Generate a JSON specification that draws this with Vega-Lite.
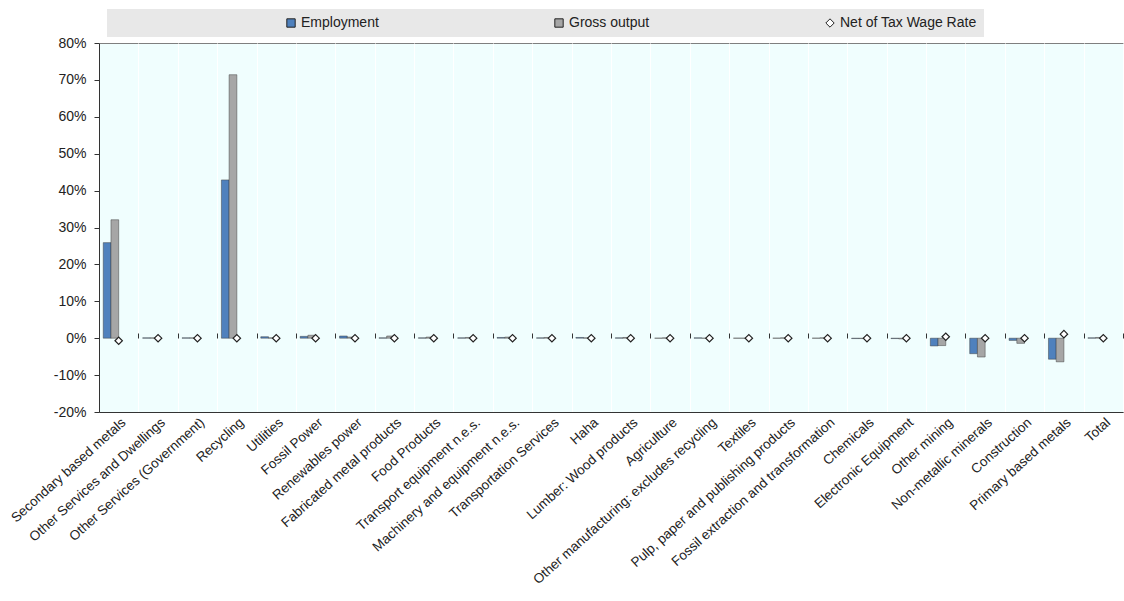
{
  "$schema": "https://vega.github.io/schema/vega-lite/v6.json",
  "width": 1024,
  "height": 369,
  "autosize": {"type": "none"},
  "padding": {"left": 99, "top": 43, "right": 1, "bottom": 189},
  "background": "#ffffff",
  "config": {
    "font": "Liberation Sans",
    "view": {"fill": "#f0fefe", "stroke": "#7f7f7f", "strokeWidth": 1},
    "axis": {"labelFont": "Liberation Sans", "labelColor": "#222222"},
    "axisY": {"labelOverlap": false},
    "legend": {"labelFont": "Liberation Sans"}
  },
  "datasets": {
    "bars": [
      {"category": "Secondary based metals", "series": "Employment", "value": 0.259},
      {"category": "Secondary based metals", "series": "Gross output", "value": 0.321},
      {"category": "Other Services and Dwellings", "series": "Employment", "value": 0.001},
      {"category": "Other Services and Dwellings", "series": "Gross output", "value": 0.001},
      {"category": "Other Services (Government)", "series": "Employment", "value": 0.001},
      {"category": "Other Services (Government)", "series": "Gross output", "value": 0.001},
      {"category": "Recycling", "series": "Employment", "value": 0.429},
      {"category": "Recycling", "series": "Gross output", "value": 0.714},
      {"category": "Utilities", "series": "Employment", "value": 0.004},
      {"category": "Utilities", "series": "Gross output", "value": 0.001},
      {"category": "Fossil Power", "series": "Employment", "value": 0.005},
      {"category": "Fossil Power", "series": "Gross output", "value": 0.008},
      {"category": "Renewables power", "series": "Employment", "value": 0.006},
      {"category": "Renewables power", "series": "Gross output", "value": 0.003},
      {"category": "Fabricated metal products", "series": "Employment", "value": 0.001},
      {"category": "Fabricated metal products", "series": "Gross output", "value": 0.006},
      {"category": "Food Products", "series": "Employment", "value": 0.001},
      {"category": "Food Products", "series": "Gross output", "value": 0.003},
      {"category": "Transport equipment n.e.s.", "series": "Employment", "value": 0.001},
      {"category": "Transport equipment n.e.s.", "series": "Gross output", "value": 0.002},
      {"category": "Machinery and equipment n.e.s.", "series": "Employment", "value": 0.002},
      {"category": "Machinery and equipment n.e.s.", "series": "Gross output", "value": 0.003},
      {"category": "Transportation Services", "series": "Employment", "value": 0.001},
      {"category": "Transportation Services", "series": "Gross output", "value": 0.002},
      {"category": "Haha", "series": "Employment", "value": 0.002},
      {"category": "Haha", "series": "Gross output", "value": 0.001},
      {"category": "Lumber: Wood products", "series": "Employment", "value": 0.001},
      {"category": "Lumber: Wood products", "series": "Gross output", "value": 0.002},
      {"category": "Agriculture", "series": "Employment", "value": 0.0},
      {"category": "Agriculture", "series": "Gross output", "value": 0.001},
      {"category": "Other manufacturing: excludes recycling", "series": "Employment", "value": 0.001},
      {"category": "Other manufacturing: excludes recycling", "series": "Gross output", "value": 0.0},
      {"category": "Textiles", "series": "Employment", "value": 0.0},
      {"category": "Textiles", "series": "Gross output", "value": 0.0},
      {"category": "Pulp, paper and publishing products", "series": "Employment", "value": 0.0},
      {"category": "Pulp, paper and publishing products", "series": "Gross output", "value": 0.001},
      {"category": "Fossil extraction and transformation", "series": "Employment", "value": 0.0},
      {"category": "Fossil extraction and transformation", "series": "Gross output", "value": 0.001},
      {"category": "Chemicals", "series": "Employment", "value": -0.001},
      {"category": "Chemicals", "series": "Gross output", "value": -0.001},
      {"category": "Electronic Equipment", "series": "Employment", "value": -0.001},
      {"category": "Electronic Equipment", "series": "Gross output", "value": -0.002},
      {"category": "Other mining", "series": "Employment", "value": -0.021},
      {"category": "Other mining", "series": "Gross output", "value": -0.02},
      {"category": "Non-metallic minerals", "series": "Employment", "value": -0.042},
      {"category": "Non-metallic minerals", "series": "Gross output", "value": -0.051},
      {"category": "Construction", "series": "Employment", "value": -0.006},
      {"category": "Construction", "series": "Gross output", "value": -0.014},
      {"category": "Primary based metals", "series": "Employment", "value": -0.057},
      {"category": "Primary based metals", "series": "Gross output", "value": -0.064},
      {"category": "Total", "series": "Employment", "value": 0.001},
      {"category": "Total", "series": "Gross output", "value": 0.002}
    ],
    "wage": [
      {"category": "Secondary based metals", "series": "Net of Tax Wage Rate", "value": -0.007},
      {"category": "Other Services and Dwellings", "series": "Net of Tax Wage Rate", "value": 0.0},
      {"category": "Other Services (Government)", "series": "Net of Tax Wage Rate", "value": 0.0},
      {"category": "Recycling", "series": "Net of Tax Wage Rate", "value": 0.0},
      {"category": "Utilities", "series": "Net of Tax Wage Rate", "value": 0.0},
      {"category": "Fossil Power", "series": "Net of Tax Wage Rate", "value": 0.0},
      {"category": "Renewables power", "series": "Net of Tax Wage Rate", "value": 0.0},
      {"category": "Fabricated metal products", "series": "Net of Tax Wage Rate", "value": 0.0},
      {"category": "Food Products", "series": "Net of Tax Wage Rate", "value": 0.0},
      {"category": "Transport equipment n.e.s.", "series": "Net of Tax Wage Rate", "value": 0.0},
      {"category": "Machinery and equipment n.e.s.", "series": "Net of Tax Wage Rate", "value": 0.0},
      {"category": "Transportation Services", "series": "Net of Tax Wage Rate", "value": 0.0},
      {"category": "Haha", "series": "Net of Tax Wage Rate", "value": 0.0},
      {"category": "Lumber: Wood products", "series": "Net of Tax Wage Rate", "value": 0.0},
      {"category": "Agriculture", "series": "Net of Tax Wage Rate", "value": 0.0},
      {"category": "Other manufacturing: excludes recycling", "series": "Net of Tax Wage Rate", "value": 0.0},
      {"category": "Textiles", "series": "Net of Tax Wage Rate", "value": 0.0},
      {"category": "Pulp, paper and publishing products", "series": "Net of Tax Wage Rate", "value": 0.0},
      {"category": "Fossil extraction and transformation", "series": "Net of Tax Wage Rate", "value": 0.0},
      {"category": "Chemicals", "series": "Net of Tax Wage Rate", "value": 0.0},
      {"category": "Electronic Equipment", "series": "Net of Tax Wage Rate", "value": 0.0},
      {"category": "Other mining", "series": "Net of Tax Wage Rate", "value": 0.004},
      {"category": "Non-metallic minerals", "series": "Net of Tax Wage Rate", "value": 0.0},
      {"category": "Construction", "series": "Net of Tax Wage Rate", "value": 0.0},
      {"category": "Primary based metals", "series": "Net of Tax Wage Rate", "value": 0.011},
      {"category": "Total", "series": "Net of Tax Wage Rate", "value": 0.0}
    ]
  },
  "resolve": {"scale": {"x": "shared", "y": "shared"}, "axis": {"x": "independent", "y": "shared"}},
  "layer": [
    {
      "data": {"name": "bars"},
      "mark": {"type": "bar", "stroke": "#3a3a3a", "strokeWidth": 0.6, "strokeOpacity": 0.8},
      "encoding": {
        "x": {
          "field": "category", "type": "nominal", "sort": null,
          "scale": {"paddingInner": 0, "paddingOuter": 0},
          "axis": {
            "orient": "bottom", "title": null, "labelAngle": -42, "labelFontSize": 13.5,
            "labelColor": "#222222", "labelPadding": 3, "labelLimit": 300,
            "ticks": false, "domain": true, "domainColor": "#333333",
            "grid": true, "gridColor": "#ffffff", "gridWidth": 1, "tickBand": "extent"
          }
        },
        "xOffset": {
          "field": "series", "type": "nominal",
          "scale": {"domain": ["Employment", "Gross output", "p1", "p2"], "paddingInner": 0, "paddingOuter": 0.55}
        },
        "y": {
          "field": "value", "type": "quantitative",
          "scale": {"domain": [-0.2, 0.8], "nice": false, "zero": false},
          "axis": {
            "title": null, "tickCount": 10,
            "labelExpr": "round(datum.value * 100) + '%'", "labelOverlap": false,
            "labelFontSize": 14, "labelColor": "#222222", "grid": false,
            "domainColor": "#333333", "tickColor": "#333333", "tickSize": 5, "labelPadding": 8
          }
        },
        "color": {
          "field": "series", "type": "nominal",
          "scale": {"domain": ["Employment", "Gross output", "Net of Tax Wage Rate"], "range": ["#4f81bd", "#a6a6a6", "#ffffff"]},
          "legend": {
            "title": null, "orient": "none", "legendX": 8, "legendY": -34, "direction": "horizontal",
            "fillColor": "#e8e8e8", "padding": 7, "symbolOffset": 170, "columnPadding": 3,
            "labelFontSize": 14, "labelColor": "#222222", "symbolSize": 70,
            "symbolStrokeColor": "#333333", "symbolStrokeWidth": 1, "labelOffset": 3
          }
        }
      }
    },
    {
      "mark": {"type": "rule", "color": "#333333", "strokeWidth": 1.2},
      "encoding": {
        "y": {
          "datum": 0, "type": "quantitative",
          "axis": {
            "title": null, "tickCount": 10,
            "labelExpr": "round(datum.value * 100) + '%'", "labelOverlap": false,
            "labelFontSize": 14, "labelColor": "#222222", "grid": false,
            "domainColor": "#333333", "tickColor": "#333333", "tickSize": 5, "labelPadding": 8
          }
        }
      }
    },
    {
      "data": {"name": "wage"},
      "mark": {"type": "point", "filled": true, "stroke": "#222222", "strokeWidth": 1.2, "size": 55, "opacity": 1},
      "encoding": {
        "x": {
          "field": "category", "type": "nominal", "sort": null,
          "axis": {
            "orient": "top", "offset": -295, "title": null, "labels": false, "domain": false,
            "grid": false, "ticks": true, "tickSize": 5, "tickColor": "#333333", "tickBand": "extent"
          }
        },
        "y": {
          "field": "value", "type": "quantitative",
          "axis": {
            "title": null, "tickCount": 10,
            "labelExpr": "round(datum.value * 100) + '%'", "labelOverlap": false,
            "labelFontSize": 14, "labelColor": "#222222", "grid": false,
            "domainColor": "#333333", "tickColor": "#333333", "tickSize": 5, "labelPadding": 8
          }
        },
        "color": {"field": "series", "type": "nominal"},
        "shape": {
          "field": "series", "type": "nominal",
          "scale": {"domain": ["Employment", "Gross output", "Net of Tax Wage Rate"], "range": ["square", "square", "diamond"]}
        }
      }
    }
  ]
}
